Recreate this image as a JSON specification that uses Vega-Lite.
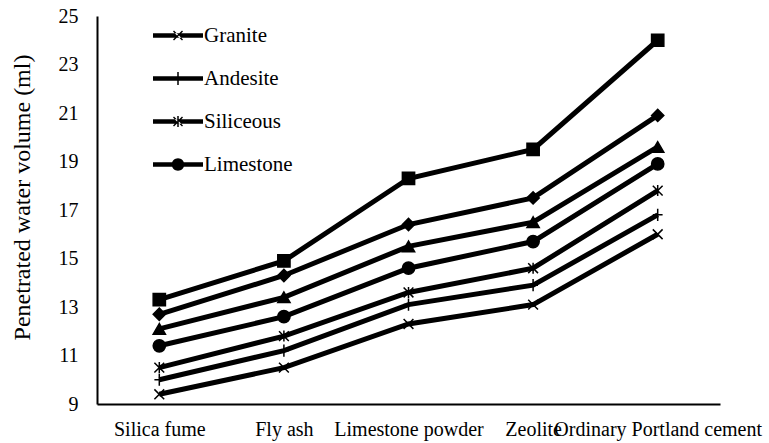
{
  "$schema": "https://vega.github.io/schema/vega-lite/v6.json",
  "width": 623,
  "height": 388,
  "autosize": {"type": "none"},
  "padding": {"left": 97, "top": 16, "right": 49, "bottom": 39},
  "config": {
    "view": {"stroke": null},
    "font": "Liberation Serif",
    "axis": {
      "domainColor": "black",
      "domainWidth": 2,
      "ticks": false,
      "grid": false,
      "labelFont": "Liberation Serif",
      "labelColor": "black",
      "labelFontSize": 20,
      "titleFont": "Liberation Serif",
      "titleColor": "black",
      "titleFontWeight": "normal",
      "titleFontSize": 24
    }
  },
  "data": {
    "values": [
      {"m": "Silica fume", "s": "Granite", "v": 9.4},
      {"m": "Fly ash", "s": "Granite", "v": 10.5},
      {"m": "Limestone powder", "s": "Granite", "v": 12.3},
      {"m": "Zeolite", "s": "Granite", "v": 13.1},
      {"m": "Ordinary Portland cement", "s": "Granite", "v": 16.0},
      {"m": "Silica fume", "s": "Andesite", "v": 10.0},
      {"m": "Fly ash", "s": "Andesite", "v": 11.2},
      {"m": "Limestone powder", "s": "Andesite", "v": 13.1},
      {"m": "Zeolite", "s": "Andesite", "v": 13.9},
      {"m": "Ordinary Portland cement", "s": "Andesite", "v": 16.8},
      {"m": "Silica fume", "s": "Siliceous", "v": 10.5},
      {"m": "Fly ash", "s": "Siliceous", "v": 11.8},
      {"m": "Limestone powder", "s": "Siliceous", "v": 13.6},
      {"m": "Zeolite", "s": "Siliceous", "v": 14.6},
      {"m": "Ordinary Portland cement", "s": "Siliceous", "v": 17.8},
      {"m": "Silica fume", "s": "Limestone", "v": 11.4},
      {"m": "Fly ash", "s": "Limestone", "v": 12.6},
      {"m": "Limestone powder", "s": "Limestone", "v": 14.6},
      {"m": "Zeolite", "s": "Limestone", "v": 15.7},
      {"m": "Ordinary Portland cement", "s": "Limestone", "v": 18.9},
      {"m": "Silica fume", "s": "Series 5", "v": 12.1},
      {"m": "Fly ash", "s": "Series 5", "v": 13.4},
      {"m": "Limestone powder", "s": "Series 5", "v": 15.5},
      {"m": "Zeolite", "s": "Series 5", "v": 16.5},
      {"m": "Ordinary Portland cement", "s": "Series 5", "v": 19.6},
      {"m": "Silica fume", "s": "Series 6", "v": 12.7},
      {"m": "Fly ash", "s": "Series 6", "v": 14.3},
      {"m": "Limestone powder", "s": "Series 6", "v": 16.4},
      {"m": "Zeolite", "s": "Series 6", "v": 17.5},
      {"m": "Ordinary Portland cement", "s": "Series 6", "v": 20.9},
      {"m": "Silica fume", "s": "Series 7", "v": 13.3},
      {"m": "Fly ash", "s": "Series 7", "v": 14.9},
      {"m": "Limestone powder", "s": "Series 7", "v": 18.3},
      {"m": "Zeolite", "s": "Series 7", "v": 19.5},
      {"m": "Ordinary Portland cement", "s": "Series 7", "v": 24.0}
    ]
  },
  "encoding": {
    "x": {
      "field": "m",
      "type": "nominal",
      "sort": ["Silica fume", "Fly ash", "Limestone powder", "Zeolite", "Ordinary Portland cement"],
      "scale": {"padding": 0.5},
      "axis": {"title": null, "labelAngle": 0, "labelPadding": 15, "labelOverlap": false, "labelLimit": 0, "labelFontSize": 20}
    },
    "y": {
      "field": "v",
      "type": "quantitative",
      "scale": {"domain": [9, 25], "nice": false, "zero": false},
      "axis": {
        "title": "Penetrated water volume (ml)",
        "values": [9, 11, 13, 15, 17, 19, 21, 23, 25],
        "labelFontSize": 20,
        "labelPadding": 19,
        "titlePadding": 24,
        "titleY": 181
      }
    }
  },
  "layer": [
    {
      "mark": {"type": "line", "color": "black", "strokeWidth": 5},
      "encoding": {"detail": {"field": "s"}}
    },
    {
      "mark": {"type": "point", "filled": true, "color": "black", "stroke": "black", "strokeWidth": 1.5, "size": 150, "opacity": 1},
      "encoding": {
        "shape": {
          "field": "s",
          "type": "nominal",
          "scale": {
            "domain": ["Granite", "Andesite", "Siliceous", "Limestone", "Series 5", "Series 6", "Series 7"],
            "range": [
              "M-0.8,-0.8L0.8,0.8M-0.8,0.8L0.8,-0.8",
              "M0,-1L0,1M-0.8,0L0.8,0",
              "M-0.8,-0.8L0.8,0.8M-0.8,0.8L0.8,-0.8M0,-0.9L0,0.9",
              "circle",
              "triangle-up",
              "diamond",
              "square"
            ]
          },
          "legend": null
        }
      }
    },
    {
      "mark": {"type": "point", "filled": true, "color": "black", "opacity": 0, "size": 1},
      "encoding": {
        "shape": {
          "field": "s",
          "type": "nominal",
          "scale": {
            "domain": ["Granite", "Andesite", "Siliceous", "Limestone", "Series 5", "Series 6", "Series 7"],
            "range": [
              "M-1,-0.09L1,-0.09L1,0.09L-1,0.09ZM-0.2,-0.16L0.16,0.2L0.2,0.16L-0.16,-0.2ZM-0.2,0.16L0.16,-0.2L0.2,-0.16L-0.16,0.2Z",
              "M-1,-0.09L1,-0.09L1,0.09L-1,0.09ZM-0.03,-0.26L0.03,-0.26L0.03,0.26L-0.03,0.26Z",
              "M-1,-0.09L1,-0.09L1,0.09L-1,0.09ZM-0.2,-0.16L0.16,0.2L0.2,0.16L-0.16,-0.2ZM-0.2,0.16L0.16,-0.2L0.2,-0.16L-0.16,0.2ZM-0.03,-0.22L0.03,-0.22L0.03,0.22L-0.03,0.22Z",
              "M-1,-0.09L1,-0.09L1,0.09L-1,0.09ZM-0.25,0A0.25,0.25,0,1,1,0.25,0A0.25,0.25,0,1,1,-0.25,0Z",
              "triangle-up",
              "diamond",
              "square"
            ]
          },
          "legend": {
            "title": null,
            "values": ["Granite", "Andesite", "Siliceous", "Limestone"],
            "orient": "none",
            "legendX": 56,
            "legendY": -5.5,
            "padding": 0,
            "symbolSize": 2500,
            "symbolOpacity": 1,
            "symbolFillColor": "black",
            "symbolStrokeColor": "black",
            "symbolStrokeWidth": 0,
            "labelFont": "Liberation Serif",
            "labelFontSize": 21,
            "labelColor": "black",
            "labelOffset": 1,
            "rowPadding": 8,
            "labelLimit": 0
          }
        }
      }
    }
  ],
  "resolve": {"scale": {"shape": "independent"}, "legend": {"shape": "independent"}}
}
